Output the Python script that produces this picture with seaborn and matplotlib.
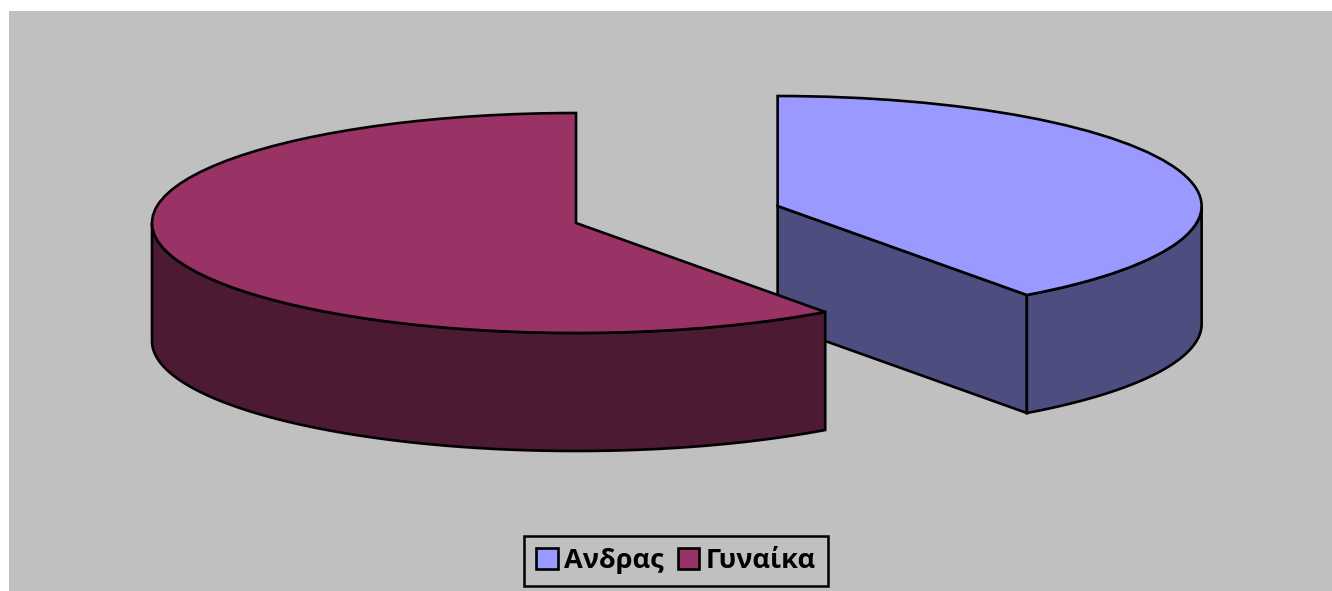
import numpy as np
import matplotlib
matplotlib.use("Agg")
import matplotlib.pyplot as plt
import seaborn as sns

# Gender split of respondents
categories = ["Ανδρας", "Γυναίκα"]
values = [40, 60]
top_colors = ["#9999FF", "#993366"]
side_colors = ["#4D4D80", "#4D1A33"]
explode = [0.5, 0.0]

sns.set_theme(style="white")
plt.rcParams["font.family"] = ["Open Sans", "DejaVu Sans"]
plt.rcParams["text.color"] = "black"

W, H, DPI = 1332, 591, 100
fig = plt.figure(figsize=(W / DPI, H / DPI), dpi=DPI, facecolor="white")

# plot area (grey panel) in pixels
px_left, px_top = 9, 11
ax = fig.add_axes([px_left / W, 0, (W - px_left) / W, (H - px_top) / H])

# pixel scale of the squashed (tilted) pie
rx_px, ry_px = 424.0, 110.0
cx_px, cy_px = 576.0, 223.0
depth = 118.0 / ry_px  # height of the extruded side, in y data units
lw = 1.9

wedges, _ = ax.pie(values, colors=top_colors, startangle=90, counterclock=False,
                   explode=explode, radius=1.0, center=(0, 0),
                   wedgeprops=dict(edgecolor="black", linewidth=lw))

# extruded sides, drawn back slice first so the front slice overlaps it
fracs = np.asarray(values, float) / np.sum(values)
ends = 90 - 360 * np.cumsum(fracs)
starts = np.concatenate([[90.0], ends[:-1]])
order = list(np.argsort([-(e * np.sin(np.deg2rad((a + b) / 2)))
                         for e, a, b in zip(explode, ends, starts)]))
for i in order:
    a, b = ends[i], starts[i]  # math angles, a < b
    z = 1 + 2 * order.index(i)
    mid = np.deg2rad((a + b) / 2)
    cx = explode[i] * np.cos(mid)
    cy = explode[i] * np.sin(mid)
    # flat cut faces that face the viewer
    for ang, vis in ((a, np.cos(np.deg2rad(a)) > 1e-9),
                     (b, np.cos(np.deg2rad(b)) < -1e-9)):
        if vis:
            px = cx + np.cos(np.deg2rad(ang))
            py = cy + np.sin(np.deg2rad(ang))
            ax.fill([cx, px, px, cx], [cy, py, py - depth, cy - depth],
                    facecolor=side_colors[i], edgecolor="black", linewidth=lw,
                    zorder=z)
    # curved outer wall (front half only)
    t = np.deg2rad(np.linspace(a, b, 600))
    t = t[np.sin(t) <= 1e-9]
    if t.size > 1:
        xs = cx + np.cos(t)
        ys = cy + np.sin(t)
        ax.fill(np.concatenate([xs, xs[::-1]]),
                np.concatenate([ys, ys[::-1] - depth]),
                facecolor=side_colors[i], edgecolor="black", linewidth=lw,
                zorder=z)
    wedges[i].set_zorder(z + 1)

ax.set_aspect("auto")
ax.set_xlim((px_left - cx_px) / rx_px, (W - cx_px) / rx_px)
ax.set_ylim(-(H - cy_px) / ry_px, (cy_px - px_top) / ry_px)
ax.set_frame_on(True)
for s in ax.spines.values():
    s.set_visible(False)
ax.set_facecolor("#C0C0C0")
ax.set_xticks([])
ax.set_yticks([])

leg = fig.legend(wedges, categories, loc="center",
                 bbox_to_anchor=(676 / W, 1 - 561 / H),
                 ncol=2, frameon=True, fancybox=False, shadow=False,
                 prop=dict(family=["Open Sans", "DejaVu Sans"], weight="bold", size=19.5),
                 handlelength=0.8, handleheight=0.8, handletextpad=0.25,
                 columnspacing=0.5, borderpad=0.45, borderaxespad=0)
for txt in leg.get_texts():
    txt.set_color("black")
leg.get_frame().set_edgecolor("black")
leg.get_frame().set_linewidth(1.8)
leg.get_frame().set_facecolor("#C0C0C0")
leg.get_frame().set_alpha(1)

fig.savefig("out.png", dpi=DPI, facecolor="white")
